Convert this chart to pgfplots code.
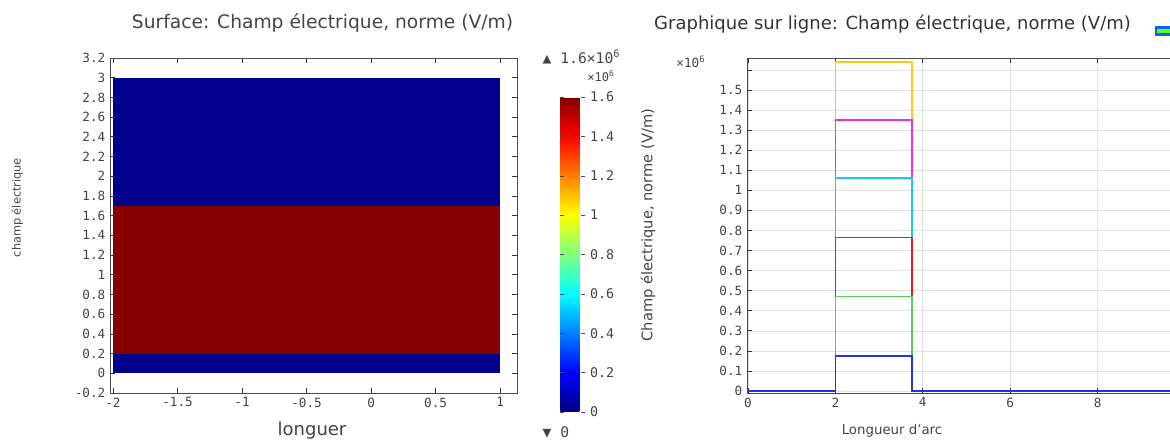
\documentclass[border=0pt]{standalone}
\usepackage{fontspec}
\setmainfont{DejaVu Sans}
\newfontfamily\monofont{DejaVu Sans Mono}
\usepackage{pgfplots}
\pgfplotsset{compat=1.18}

\definecolor{cbleu}{rgb}{0,0,0.55}
\definecolor{crouge}{rgb}{0.53,0,0}
\definecolor{txt}{HTML}{444444}
\definecolor{ljaune}{rgb}{1,0.78,0.1}
\definecolor{lmagenta}{rgb}{0.95,0.2,0.85}
\definecolor{lcyan}{rgb}{0.1,0.8,0.9}
\definecolor{lrouge}{rgb}{0.95,0.1,0.1}
\definecolor{lvert}{rgb}{0.35,0.8,0.35}
\definecolor{lbleu}{rgb}{0.15,0.2,0.9}

\pgfplotsset{
  comsol/.style={
    scale only axis,
    anchor=south west,
    tick align=inside,
    major tick length=4pt,
    tick style={black!80, line width=0.5pt},
    axis line style={black!70, line width=0.6pt},
    ticklabel style={font=\monofont\fontsize{9.5}{11}\selectfont, text=txt},
    /pgf/number format/assume math mode=true,
  },
}

\begin{document}
\begin{tikzpicture}
\path[use as bounding box] (0,0) rectangle (877.5pt,330.75pt);
\clip (0,0) rectangle (877.5pt,330.75pt);

% titres et textes
\node[font=\fontsize{14}{16}\selectfont, text=txt] at (241.9pt,313.5pt) {Surface: Champ électrique, norme (V/m)};
\node[font=\fontsize{13.5}{16}\selectfont, text=black!80] at (669.4pt,312.5pt) {Graphique sur ligne: Champ électrique, norme (V/m)};
\node[font=\fontsize{8.5}{10}\selectfont, text=txt, rotate=90] at (13pt,175pt) {champ électrique};
\node[font=\fontsize{13.5}{16}\selectfont, text=txt] at (234pt,7.5pt) {longuer};
\node[font=\fontsize{10}{12}\selectfont, text=txt] at (669pt,7.5pt) {Longueur d'arc};
\node[font=\fontsize{11}{13}\selectfont, text=txt, rotate=90] at (486pt,162pt) {Champ électrique, norme (V/m)};
\node[font=\monofont\fontsize{11}{13}\selectfont, text=txt, anchor=west] at (403.5pt,288pt) {▲ 1.6×10\textsuperscript{6}};
\node[font=\monofont\fontsize{9}{11}\selectfont, text=txt] at (450.75pt,273.5pt) {×10\textsuperscript{6}};
\node[font=\monofont\fontsize{11}{13}\selectfont, text=txt, anchor=west] at (403.5pt,6.75pt) {▼ 0};
\node[font=\monofont\fontsize{9.5}{11}\selectfont, text=txt, anchor=east] at (532.5pt,284.25pt) {×10\textsuperscript{6}};
\fill[blue!60!cyan] (866pt,304pt) rectangle (877.5pt,311pt);
\fill[green!60!yellow] (868pt,306pt) rectangle (877.5pt,309pt);

% surface
\begin{axis}[comsol,
  at={(82.5pt,36pt)},
  width=305.25pt, height=251.25pt,
  xmin=-2.023, xmax=1.13, ymin=-0.2, ymax=3.2,
  xtick={-2,-1.5,-1,-0.5,0,0.5,1},
  ytick={-0.2,0,0.2,0.4,0.6,0.8,1,1.2,1.4,1.6,1.8,2,2.2,2.4,2.6,2.8,3,3.2},
  yticklabels={-0.2,0,0.2,0.4,0.6,0.8,1,1.2,1.4,1.6,1.8,2,2.2,2.4,2.6,2.8,3,3.2},
  xticklabels={-2,-1.5,-1,-0.5,0,0.5,1},
  colormap/jet,
  colorbar,
  point meta min=0, point meta max=1.6,
  colorbar style={
    at={(parent axis.south east)}, anchor=south west,
    xshift=24pt, yshift=-14.25pt,
    scale only axis, width=18.75pt, height=236.25pt,
    ytick={0,0.2,0.4,0.6,0.8,1,1.2,1.4,1.6},
    yticklabels={0,0.2,0.4,0.6,0.8,1,1.2,1.4,1.6},
    ytick pos=both,
    yticklabel pos=right,
    yticklabel style={font=\monofont\fontsize{10}{12}\selectfont, text=txt},
    tick align=inside, major tick length=3pt,
    tick style={black!70},
    axis line style={draw=none},
  },
]
\addplot[fill=cbleu, draw=none] coordinates {(-2,0) (1,0) (1,3) (-2,3)} --cycle;
\addplot[fill=crouge, draw=none] coordinates {(-2,0.2) (1,0.2) (1,1.7) (-2,1.7)} --cycle;
\end{axis}

% graphique sur ligne
\begin{axis}[comsol,
  at={(560.25pt,36pt)},
  width=324.75pt, height=251.25pt,
  xmin=-0.02, xmax=9.885, ymin=-0.01, ymax=1.659,
  xtick={0,2,4,6,8},
  ytick={0,0.1,0.2,0.3,0.4,0.5,0.6,0.7,0.8,0.9,1,1.1,1.2,1.3,1.4,1.5,1.6},
  yticklabels={0,0.1,0.2,0.3,0.4,0.5,0.6,0.7,0.8,0.9,1,1.1,1.2,1.3,1.4,1.5,{}},
  grid=major, grid style={black!12, line width=0.4pt},
  every axis plot/.append style={line width=1.15pt},
]
\addplot[color=ljaune] coordinates {(0,0) (2,0) (2,1.64) (3.75,1.64) (3.75,0) (9.885,0)};
\addplot[color=lmagenta] coordinates {(0,0) (2,0) (2,1.35) (3.75,1.35) (3.75,0) (9.885,0)};
\addplot[color=lcyan] coordinates {(0,0) (2,0) (2,1.06) (3.75,1.06) (3.75,0) (9.885,0)};
\addplot[color=lrouge] coordinates {(0,0) (2,0) (2,0.765) (3.75,0.765) (3.75,0) (9.885,0)};
\addplot[color=lvert] coordinates {(0,0) (2,0) (2,0.47) (3.75,0.47) (3.75,0) (9.885,0)};
\addplot[color=lbleu] coordinates {(0,0) (2,0) (2,0.175) (3.75,0.175) (3.75,0) (9.885,0)};
\end{axis}
\end{tikzpicture}
\end{document}
